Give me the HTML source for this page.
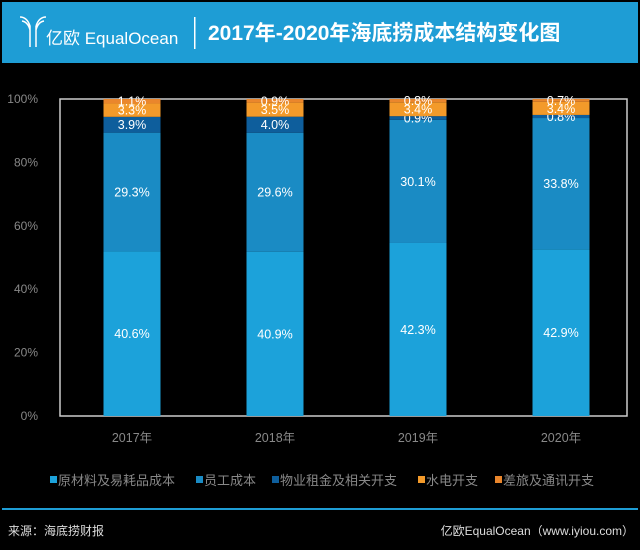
<!DOCTYPE html>
<html><head><meta charset="utf-8"><style>
body{margin:0;background:#000;width:640px;height:550px;overflow:hidden;font-family:"Liberation Sans","Noto Sans CJK SC",sans-serif}
</style></head><body>
<svg width="640" height="550" xmlns="http://www.w3.org/2000/svg" style="position:absolute;left:0;top:0">
<rect x="2" y="2" width="636" height="61" fill="#1e9dd5"/>
<g fill="none" stroke="#fff" stroke-width="1.5">
<path d="M20 17 Q27 17 30 26 L30 47 M36 26 Q39 17 46 17 M36 26 L36 47 M22 21 Q28 22 30 30 M44 21 Q38 22 36 30"/>
</g>
<text x="46" y="44" fill="#fff" font-size="17">亿欧 EqualOcean</text>
<rect x="194" y="17" width="1.5" height="32" fill="#fff"/>
<text x="208" y="40" fill="#fff" font-size="21" font-weight="bold">2017年-2020年海底捞成本结构变化图</text>
<g id="plot"></g>
<line x1="2" y1="509" x2="638" y2="509" stroke="#1e9dd5" stroke-width="2"/>
<text x="8" y="535" fill="#ddd" font-size="12">来源：海底捞财报</text>
<text x="634" y="535" fill="#ddd" font-size="12" text-anchor="end">亿欧EqualOcean（www.iyiou.com）</text>
</svg>
<script>
const categories=["2017年","2018年","2019年","2020年"];
const seriesNames=["原材料及易耗品成本","员工成本","物业租金及相关开支","水电开支","差旅及通讯开支"];
const rawMaterial=[40.6,40.9,42.3,42.9];
const staff=[29.3,29.6,30.1,33.8];
const rent=[3.9,4.0,0.9,0.8];
const utilities=[3.3,3.5,3.4,3.4];
const travel=[1.1,0.9,0.8,0.7];
const yTicks=[0,20,40,60,80,100];
const series=[rawMaterial,staff,rent,utilities,travel];
const colors=["#1ca2da","#1a8bc4","#0e5e9c","#f39a2a","#ea862c"];
const NS="http://www.w3.org/2000/svg";
const g=document.getElementById('plot');
const L=60,R=627,T=99,B=416;
const y=v=>B-(v/100)*(B-T);
const xc=i=>132+143*i;
const bw=57;
function mk(tag,attrs,txt){const e=document.createElementNS(NS,tag);for(const k in attrs)e.setAttribute(k,attrs[k]);if(txt!=null)e.textContent=txt;g.appendChild(e);return e;}
yTicks.forEach(t=>{const e=mk('text',{x:38,y:y(t)+4,fill:'#888','font-size':12,'text-anchor':'end'},t+'%');

});
const fr=mk('path',{d:`M${L} ${B} L${L} ${T} L${R} ${T} L${R} ${B} Z`,fill:'none',stroke:'#ccc','stroke-width':1.5});


categories.forEach((c,i)=>{
 let tot=0;series.forEach(s=>tot+=s[i]);
 let acc=0;
 series.forEach((s,j)=>{
  const p=s[i]/tot*100;
  const y0=y(acc),y1=y(acc+p);
  const r=mk('rect',{x:xc(i)-bw/2,y:y1,width:bw,height:y0-y1,fill:colors[j]});
  
  
  const t=mk('text',{x:xc(i),y:(y0+y1)/2+4.5,fill:'#fff','font-size':12.5,'text-anchor':'middle'},s[i].toFixed(1)+'%');
  
  
  acc+=p;
 });
 const xl=mk('text',{x:xc(i),y:442,fill:'#888','font-size':12.5,'text-anchor':'middle'},c);
 
 
});
const lx=[50,196,272,418,495];
seriesNames.forEach((n,j)=>{
 const r=mk('rect',{x:lx[j],y:476,width:7,height:7,fill:colors[j]});
 
 
 const t=mk('text',{x:lx[j]+8,y:485,fill:'#888','font-size':13},n);
 
 
});
</script>
</body></html>
